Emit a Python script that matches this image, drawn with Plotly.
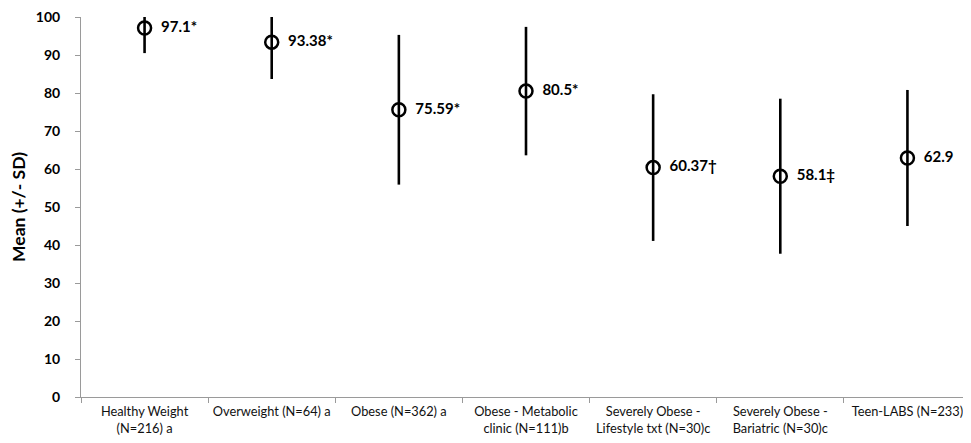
import plotly.graph_objects as go

categories = ["Healthy Weight<br>(N=216) a", "Overweight (N=64) a", "Obese (N=362) a",
              "Obese - Metabolic<br>clinic (N=111)b", "Severely Obese -<br>Lifestyle txt (N=30)c",
              "Severely Obese -<br>Bariatric (N=30)c", "Teen-LABS (N=233)"]
means = [97.1, 93.38, 75.59, 80.5, 60.37, 58.1, 62.9]
sds = [6.6, 9.7, 19.7, 16.9, 19.3, 20.4, 17.9]
labels = ["97.1*", "93.38*", "75.59*", "80.5*", "60.37\u2020", "58.1\u2021", "62.9"]
y_ticks = [0, 10, 20, 30, 40, 50, 60, 70, 80, 90, 100]

ymax = 100
plus = [min(s, ymax - m) for m, s in zip(means, sds)]

fig = go.Figure()
fig.add_trace(go.Scatter(
    x=categories, y=means, mode="markers+text",
    marker=dict(symbol="circle-open", size=13, color="black", line=dict(width=2.5, color="black")),
    error_y=dict(type="data", symmetric=False, array=plus, arrayminus=sds,
                 width=0, thickness=2.6, color="black"),
    text=["  " + t for t in labels], textposition="middle right",
    textfont=dict(family="Lato, Open Sans, sans-serif", size=15, color="black", weight="bold"),
    cliponaxis=False, showlegend=False,
))

# page body has an 8px default margin
fig.update_layout(
    width=963, height=435,
    margin=dict(l=73, r=0, t=9, b=46),
    plot_bgcolor="white", paper_bgcolor="white",
    font=dict(family="Lato, Open Sans, sans-serif", color="black"),
)
fig.update_xaxes(
    type="category", range=[-0.5, len(categories) - 0.5],
    showgrid=False, showline=True, linecolor="#9a9a9a", linewidth=1,
    ticks="outside", tickson="boundaries", ticklen=5, tickcolor="#9a9a9a", tickangle=0,
    ticklabelstandoff=3, ticklabeloverflow="allow",
    tickfont=dict(size=12.8, color="#111"), automargin=False,
)
fig.update_yaxes(
    range=[0, 100], tickvals=y_ticks, showgrid=False, zeroline=False,
    showline=True, linecolor="#9a9a9a", linewidth=1,
    ticks="outside", ticklen=5, tickcolor="#9a9a9a", ticklabelstandoff=12,
    ticklabeloverflow="allow",
    tickfont=dict(size=14, color="black", weight="bold"), automargin=False,
    title=dict(text="Mean (+/- SD)", font=dict(size=17.5, color="black", weight="bold"), standoff=9),
)

fig.write_html("out.html")
